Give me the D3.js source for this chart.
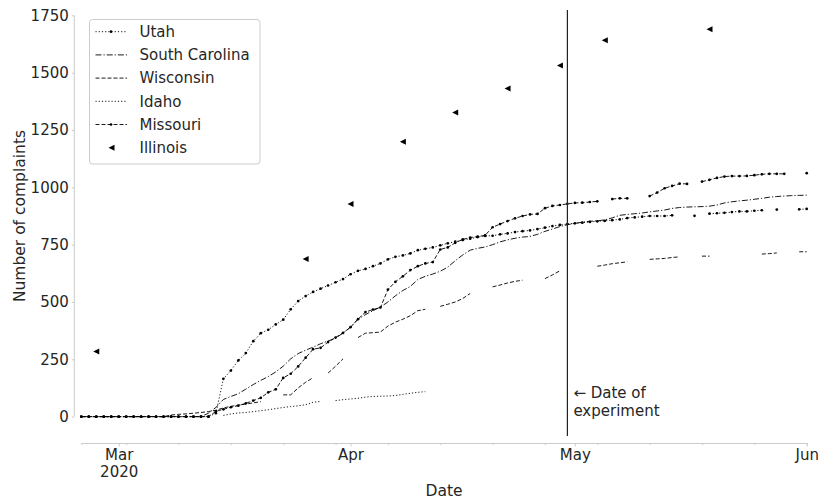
<!DOCTYPE html>
<html>
<head>
<meta charset="utf-8">
<script src="https://cdn.jsdelivr.net/npm/d3@7"></script>
<style>
  body { margin: 0; background: #fff; }
  svg text { font-family: "DejaVu Sans", sans-serif; fill: #262626; }
</style>
</head>
<body>
<svg id="chart" width="818" height="499"></svg>
<script>
const _ = null;

// daily complaint counts, 2020-02-25 .. 2020-06-01 (98 days), null = missing day
const startDay = "2020-02-25";
const endDay = "2020-06-01";
const experimentDay = "2020-04-30";
const monthTicks = ["2020-03-01", "2020-04-01", "2020-05-01", "2020-06-01"];
const monthLabels = [["Mar", "2020"], ["Apr"], ["May"], ["Jun"]];
const yTicks = [0, 250, 500, 750, 1000, 1250, 1500, 1750];

const utah = [
  0, 0, 0, 0, 0, 0, 0, 0, 0, 0,
  0, 0, 0, 0, 0, 0, 0, 0, 15, 165,
  201, 245, 277, 329, 364, 379, 402, 423, 468, 504,
  526, 544, 558, 572, 586, 600, 621, 636, 644, 656,
  668, 686, 697, 703, 712, 726, 732, 738, 747, 756,
  763, 770, 776, 783, 788, 789, 795, 799, 805, 809,
  812, 818, 824, 831, 836, 840, 843, 846, 849, 852,
  854, 857, 860, 866, 869, 872, 875, 875, 875, 878,
  _, _, 876, _, 885, 887, 889, 892, 895, 895,
  898, 900, _, 903, _, _, 904, 906
];

const southCarolina = [
  0, 0, 0, 0, 0, 0, 0, 0, 0, 0,
  0, 0, 0, 0, 0, 0, 0, 15, 40, 75,
  88, 100, 120, 140, 158, 175, 195, 220, 252, 275,
  290, 303, 318, 330, 342, 365, 390, 425, 445, 462,
  478, 500, 527, 550, 568, 598, 612, 622, 634, 652,
  680, 705, 726, 734, 740, 750, 762, 771, 778, 783,
  786, 795, 808, 818, 829, 837, 843, 848, 852, 854,
  858, 867, 878, 882, 885, 888, 893, 897, 901, 908,
  912, 914, 915, 916, 918, 923, 932, 937, 941, 944,
  948, 952, 957, 960, 962, 964, 965, 966
];

const wisconsin = [
  0, 0, 0, 0, 0, 0, 0, 0, 0, 0,
  0, 0, 7, 10, 12, 15, 18, 22, 28, 38,
  45, 50, 55, 60, 65, _, _, 95, 95, 125,
  150, 170, _, 190, 220, 252, _, 345, 364, 366,
  369, 395, 412, 425, 440, 462, 468, _, 481, 490,
  500, 515, 537, _, _, 566, 574, 583, 590, 595,
  _, _, 602, 618, 636, _, _, _, _, 656,
  661, 667, 671, 675, _, _, 686, 688, 690, 694,
  697, _, _, 700, 700, _, _, _, _, _,
  _, 709, 711, 714, _, _, 719, 719
];

const idaho = [
  _, _, _, _, _, _, _, _, _, _,
  _, _, _, _, _, _, _, _, _, 5,
  12, 16, 18, 22, 26, 30, 35, 40, 44, 47,
  52, 63, 66, _, 70, 74, 77, 80, 85, 88,
  89, 90, 92, 97, 102, 106, 109, _, _, _,
  _, _, _, _, _, _, _, _, _, _,
  _, _, _, _, _, _, _, _, _, _,
  _, _, _, _, _, _, _, _, _, _,
  _, _, _, _, _, _, _, _, _, _,
  _, _, _, _, _, _, _, _
];

const missouri = [
  0, 0, 0, 0, 0, 0, 0, 0, 0, 0,
  0, 0, 0, 0, 0, 0, 0, 0, 23, 32,
  41, 48, 58, 70, 82, 106, 119, 169, 187, 219,
  257, 294, 300, 325, 345, 365, 390, 425, 456, 467,
  476, 554, 588, 612, 639, 656, 668, 674, 729, 738,
  758, 773, 781, 785, 791, 826, 840, 853, 865, 875,
  882, 884, 909, 919, 923, 928, 932, 933, 936, 939,
  _, 949, 952, 952, _, _, 962, 977, 996, 1006,
  1016, 1015, _, 1025, 1033, 1041, 1047, 1049, 1049, 1050,
  1053, 1057, 1059, 1059, 1059, _, _, 1062
];

// Illinois is only reported about once a week
const illinoisDays = ["2020-02-27", "2020-03-26", "2020-04-01", "2020-04-08", "2020-04-15",
  "2020-04-22", "2020-04-29", "2020-05-05", "2020-05-19"];
const illinoisValues = [284, 687, 927, 1199, 1326, 1431, 1531, 1641, 1689];

const parse = d3.utcParse("%Y-%m-%d");
const days = d3.utcDay.range(parse(startDay), d3.utcDay.offset(parse(endDay), 1));

const series = [
  { name: "Utah", values: utah, dash: "1.2,2", dots: true },
  { name: "South Carolina", values: southCarolina, dash: "6,2,1.2,2", dots: false },
  { name: "Wisconsin", values: wisconsin, dash: "4,2", dots: false },
  { name: "Idaho", values: idaho, dash: "1.2,2", dots: false },
  { name: "Missouri", values: missouri, dash: "4,2", dots: true },
];
const illinois = illinoisDays.map((d, i) => ({ date: parse(d), value: illinoisValues[i] }));

const svg = d3.select("#chart");
const plot = { left: 81.3, right: 806.7, top: 10, bottom: 436 };

const allValues = series.flatMap(s => s.values).concat(illinoisValues).filter(v => v != null);
const [vMin, vMax] = d3.extent(allValues);
const pad = (vMax - vMin) * 0.05;

const x = d3.scaleUtc()
  .domain([days[0], days[days.length - 1]])
  .range([plot.left, plot.right]);

const y = d3.scaleLinear()
  .domain([vMin - pad, vMax + pad])
  .range([plot.bottom, plot.top]);

const spineColor = "#cccccc";
const dotR = 1.35;

// left axis (offset, trimmed)
const leftX = plot.left - 7;
const yAxis = svg.append("g")
  .attr("transform", `translate(${leftX},0)`)
  .call(d3.axisLeft(y).tickValues(yTicks).tickSize(2.5).tickPadding(3).tickFormat(d3.format("d")));
yAxis.select(".domain").remove();
yAxis.selectAll(".tick line").attr("stroke", spineColor);
yAxis.selectAll(".tick text").attr("font-size", 15).attr("fill", "#262626");
yAxis.append("line")
  .attr("y1", y(yTicks[0])).attr("y2", y(yTicks[yTicks.length - 1]))
  .attr("stroke", spineColor).attr("stroke-width", 1);

// bottom axis
const bottomY = plot.bottom + 7;
const minorTicks = [days[0]].concat(d3.utcMonday.range(days[0], d3.utcDay.offset(days[days.length - 1], 1)));
const xMinor = svg.append("g")
  .attr("transform", `translate(0,${bottomY})`)
  .call(d3.axisBottom(x).tickValues(minorTicks).tickSize(2).tickSizeOuter(0).tickFormat(""));
xMinor.select(".domain").attr("stroke", spineColor);
xMinor.selectAll(".tick line").attr("stroke", spineColor);

const majorDates = monthTicks.map(parse);
const xMajor = svg.append("g")
  .attr("transform", `translate(0,${bottomY})`)
  .call(d3.axisBottom(x).tickValues(majorDates).tickSize(3.5).tickSizeOuter(0).tickPadding(2).tickFormat(""));
xMajor.select(".domain").remove();
xMajor.selectAll(".tick line").attr("stroke", spineColor);
xMajor.selectAll(".tick").each(function (d, i) {
  const t = d3.select(this).append("text")
    .attr("text-anchor", "middle")
    .attr("font-size", 15)
    .attr("fill", "#262626");
  monthLabels[i].forEach((line, j) => {
    t.append("tspan").attr("x", 0).attr("y", 16.5 + j * 17.5).text(line);
  });
});

// axis labels
svg.append("text")
  .attr("transform", `translate(25,${y(875)}) rotate(-90)`)
  .attr("text-anchor", "middle")
  .attr("font-size", 15.5)
  .text("Number of complaints");

svg.append("text")
  .attr("x", (plot.left + plot.right) / 2)
  .attr("y", 496)
  .attr("text-anchor", "middle")
  .attr("font-size", 15.5)
  .text("Date");

// lines
const line = d3.line()
  .defined(d => d.value != null)
  .x(d => x(d.date))
  .y(d => y(d.value));

const lines = svg.append("g").attr("class", "lines");
series.forEach(s => {
  const pts = days.map((d, i) => ({ date: d, value: s.values[i] }));
  lines.append("path")
    .datum(pts)
    .attr("fill", "none")
    .attr("stroke", "#000")
    .attr("stroke-width", 0.9)
    .attr("stroke-dasharray", s.dash)
    .attr("d", line);
  if (s.dots) {
    lines.append("g").selectAll("circle")
      .data(pts.filter(p => p.value != null))
      .join("circle")
      .attr("cx", p => x(p.date))
      .attr("cy", p => y(p.value))
      .attr("r", dotR)
      .attr("fill", "#000");
  }
});

const tri = "M-3,0L3,-3L3,3Z";
lines.append("g").selectAll("path")
  .data(illinois)
  .join("path")
  .attr("d", tri)
  .attr("transform", p => `translate(${x(p.date)},${y(p.value)})`)
  .attr("fill", "#000");

// experiment marker
const ex = x(parse(experimentDay));
svg.append("line")
  .attr("x1", ex).attr("x2", ex)
  .attr("y1", plot.top).attr("y2", plot.bottom)
  .attr("stroke", "#222").attr("stroke-width", 1.2);
const note = svg.append("text").attr("font-size", 15);
note.append("tspan").attr("x", ex + 6).attr("y", 398).text("\u2190 Date of");
note.append("tspan").attr("x", ex + 6).attr("y", 416).text("experiment");

// legend
const legend = svg.append("g").attr("transform", "translate(89.5,19.5)");
legend.append("rect")
  .attr("width", 170.5).attr("height", 144.5).attr("rx", 3)
  .attr("fill", "#fff").attr("fill-opacity", 0.8)
  .attr("stroke", spineColor);
const legendItems = series.map(s => ({ name: s.name, dash: s.dash, dots: s.dots, tri: false }))
  .concat([{ name: "Illinois", dash: null, dots: false, tri: true }]);
legendItems.forEach((it, i) => {
  const g = legend.append("g").attr("transform", `translate(0,${12.2 + i * 23.2})`);
  if (it.dash) {
    g.append("line").attr("x1", 6).attr("x2", 37.5)
      .attr("stroke", "#000").attr("stroke-width", 0.9)
      .attr("stroke-dasharray", it.dash);
  }
  if (it.dots) g.append("circle").attr("cx", 21.5).attr("r", dotR).attr("fill", "#000");
  if (it.tri) g.append("path").attr("d", tri).attr("transform", "translate(22,0)").attr("fill", "#000");
  g.append("text").attr("x", 50).attr("dy", "0.35em").attr("font-size", 15).text(it.name);
});
</script>
</body>
</html>
